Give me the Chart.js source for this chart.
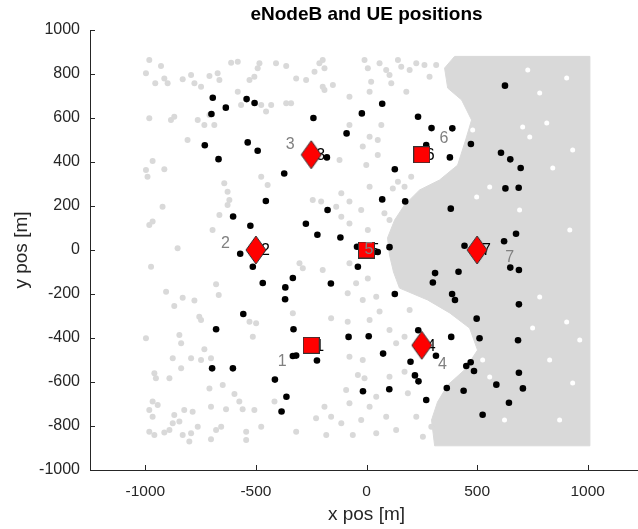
<!DOCTYPE html>
<html>
<head>
<meta charset="utf-8">
<script src="https://cdn.jsdelivr.net/npm/chart.js@4.4.0/dist/chart.umd.min.js"></script>
<style>
  html, body { margin: 0; padding: 0; background: #fff; overflow: hidden; }
  #wrap { width: 646px; height: 529px; }
</style>
</head>
<body>
<div id="wrap"><canvas id="enb-chart" width="646" height="529"></canvas></div>
<script>
// eNodeB sites (square and diamond markers)
var enbSquare = [[-250, -433], [0, 0], [250, 433]];
var enbSquareIds = ['1', '5', '6'];
var enbDiamond = [[-500, 0], [-250, 433], [250, -433], [500, 0]];
var enbDiamondIds = ['2', '3', '4', '7'];

// grey id labels next to the sites
var siteLabelXY = [[-381, -505], [-638, 27], [-345, 477], [343, -520], [11, 0], [350, 505], [647, -33]];
var siteLabelIds = ['1', '2', '3', '4', '5', '6', '7'];

// UE positions
var ueXY = [
  [-695, 692], [-636, 647], [-701, 618], [-542, 686], [-506, 668], [-731, 476], [-669, 413], [-537, 489],
  [-492, 451], [-372, 348], [-455, 223], [-603, 152], [-525, 110], [-571, -17], [-514, -76], [-469, -150],
  [-367, -170], [-368, -224], [-333, -127], [-557, -291], [-680, -360], [-698, -538], [-604, -538], [-414, -589],
  [-362, -667], [-384, -734], [-240, 600], [-21, 621], [71, 665], [-90, 530], [233, 606], [294, 554],
  [270, 477], [-179, 421], [128, 367], [71, 230], [175, 221], [-176, 182], [-274, 119], [-222, 69],
  [-118, 57], [-43, 15], [51, -9], [104, 13], [-39, -76], [-161, -152], [128, -200], [310, -105],
  [300, -148], [416, -99], [-330, -360], [-81, -395], [10, -392], [75, -471], [234, -365], [314, -481],
  [199, -508], [219, -570], [235, -597], [270, -682], [103, -633], [-16, -642], [-333, -482], [-318, -480],
  [-224, -502], [626, 747], [388, 553], [472, 482], [377, 421], [608, 442], [650, 412], [697, 373],
  [628, 280], [688, 283], [381, 188], [676, 74], [622, 40], [443, 19], [650, -80], [689, -91],
  [387, -200], [400, -227], [689, -247], [498, -312], [383, -395], [511, -401], [685, -410], [471, -510],
  [451, -527], [486, -550], [689, -558], [587, -612], [707, -629], [363, -627], [439, -640], [644, -694],
  [525, -749]
];

// scattered grey points
var greyXY = [
  [-982, 864], [-929, 836], [-997, 803], [-955, 758], [-914, 780], [-899, 758], [-831, 776], [-793, 795],
  [-778, 758], [-748, 742], [-710, 791], [-673, 803], [-665, 773], [-612, 851], [-582, 856], [-507, 788],
  [-492, 826], [-484, 849], [-529, 773], [-409, 849], [-363, 836], [-582, 719], [-567, 659], [-476, 659],
  [-454, 629], [-431, 659], [-363, 667], [-982, 599], [-884, 591], [-869, 606], [-763, 591], [-733, 568],
  [-688, 568], [-710, 614], [-809, 500], [-967, 405], [-914, 367], [-997, 364], [-990, 333], [-643, 303],
  [-628, 265], [-620, 227], [-628, 205], [-476, 333], [-447, 295], [-922, 197], [-967, 129], [-982, 114],
  [-665, 159], [-696, 91], [-854, 8],
  [-974, -76], [-906, -190], [-869, -255], [-831, -217], [-778, -230], [-680, -156], [-668, -205], [-756, -303],
  [-748, -318], [-997, -401], [-846, -386], [-838, -424], [-733, -451], [-876, -492], [-793, -492], [-748, -500],
  [-703, -492], [-838, -538], [-959, -560], [-952, -583], [-891, -583], [-529, -326], [-499, -333], [-514, -394],
  [-710, -629], [-650, -614], [-597, -654], [-575, -689], [-967, -689], [-944, -704], [-982, -727], [-967, -758],
  [-869, -750], [-824, -727], [-786, -735], [-703, -712], [-635, -724], [-560, -724], [-507, -727], [-416, -689],
  [-876, -788], [-846, -780], [-891, -818], [-914, -830], [-959, -841], [-982, -826], [-831, -841], [-793, -833],
  [-763, -803], [-680, -818], [-657, -803], [-544, -826], [-476, -803], [-703, -860], [-801, -871], [-544, -864],
  [-318, 780], [-273, 773], [-235, 810], [-213, 849], [-198, 864], [-190, 826], [-198, 742], [-152, 750],
  [-190, 727], [-77, 697], [-9, 864], [6, 826], [21, 765], [59, 849], [89, 818], [104, 795],
  [112, 758], [142, 864], [157, 833], [180, 719], [195, 818], [225, 849], [262, 841], [285, 788],
  [315, 841], [14, 719], [-77, 568], [67, 568], [51, 500], [14, 515], [-122, 409], [51, 432],
  [-1, 386], [-17, 470], [-341, 667], [142, 310], [202, 333], [172, 288], [119, 280], [14, 288],
  [-114, 258], [-77, 220], [-137, 197], [-114, 151], [-77, 121], [-205, 220], [-243, 227], [-24, 182],
  [81, 167], [104, 136], [6, 91],
  [-303, -60], [-288, -83], [-198, -91], [-77, -60], [-47, -151], [6, -129], [-85, -197], [-17, -227],
  [44, -212], [59, -280], [14, -318], [-160, -310], [-85, -326], [104, -364], [134, -424], [172, -394],
  [-77, -485], [-17, -500], [-39, -568], [-9, -583], [104, -576], [172, -553], [187, -651], [-92, -636],
  [44, -667], [14, -712], [-77, -697], [-190, -712], [-228, -765], [-160, -758], [-114, -788], [-24, -773],
  [89, -758], [134, -818], [44, -833], [-62, -841], [-182, -841], [-318, -826], [225, -758], [255, -849],
  [293, -803], [-333, -288], [195, -273]
];

// outline of the dense grey area on the east side
var greyArea = [
  [1010, 880], [398, 880], [353, 827], [367, 736], [430, 682], [475, 591], [448, 500], [412, 386],
  [330, 318], [240, 273], [172, 205], [127, 136], [95, 55], [104, -23], [122, -100], [149, -173],
  [276, -227], [376, -286], [466, -355], [502, -455], [443, -545], [367, -614], [321, -691], [294, -773],
  [308, -890], [1010, -890], [1010, 880]
];

// gaps inside the dense grey area
var greyHoles = [
  [729, 818], [905, 782], [783, 714], [706, 559], [815, 577], [932, 455], [738, 514], [842, 373],
  [498, 241], [557, 286], [480, 545], [783, -214], [751, -355], [905, -327], [828, -500], [932, -605],
  [964, -409], [525, -500], [557, -577], [624, -773], [873, -773], [692, 182], [919, 91]
];

var xTicks = [-1000, -500, 0, 500, 1000];
var yTicks = [-1000, -800, -600, -400, -200, 0, 200, 400, 600, 800, 1000];

var FONT = '"Liberation Sans", Arial, Helvetica, sans-serif';
var TEXT = '#262626';
var GREY = '#d9d9d9';

function toPts(list) {
  return list.map(function (p) { return { x: p[0], y: p[1] }; });
}

// marker images
function makeSquare() {
  var c = document.createElement('canvas');
  c.width = 17; c.height = 17;
  var g = c.getContext('2d');
  g.fillStyle = '#ff0000';
  g.strokeStyle = '#333333';
  g.lineWidth = 1;
  g.fillRect(0.5, 0.5, 16, 16);
  g.strokeRect(0.5, 0.5, 16, 16);
  return c;
}
function makeDiamond() {
  var c = document.createElement('canvas');
  c.width = 22; c.height = 30;
  var g = c.getContext('2d');
  g.beginPath();
  g.moveTo(11, 1);
  g.lineTo(21, 15);
  g.lineTo(11, 29);
  g.lineTo(1, 15);
  g.closePath();
  g.fillStyle = '#ff0000';
  g.fill();
  g.strokeStyle = '#333333';
  g.lineWidth = 1;
  g.stroke();
  return c;
}

var labelPlugin = {
  id: 'labels',
  beforeDatasetDraw: function (chart, args) {
    if (args.index !== 4) return;
    // black ids sit behind the markers
    var ctx = chart.ctx;
    var xs = chart.scales.x, ys = chart.scales.y;
    ctx.save();
    ctx.font = '16px ' + FONT;
    ctx.fillStyle = '#000';
    ctx.textAlign = 'left';
    ctx.textBaseline = 'middle';
    enbSquare.forEach(function (p, i) {
      ctx.fillText(enbSquareIds[i], xs.getPixelForValue(p[0]) + 4, ys.getPixelForValue(p[1]) + 1);
    });
    enbDiamond.forEach(function (p, i) {
      ctx.fillText(enbDiamondIds[i], xs.getPixelForValue(p[0]) + 5, ys.getPixelForValue(p[1]) + 1);
    });
    ctx.restore();
  },
  afterDatasetsDraw: function (chart) {
    var ctx = chart.ctx;
    var xs = chart.scales.x, ys = chart.scales.y;
    ctx.save();
    ctx.font = '16px ' + FONT;
    ctx.fillStyle = '#808080';
    ctx.textAlign = 'center';
    ctx.textBaseline = 'middle';
    siteLabelXY.forEach(function (p, i) {
      ctx.fillText(siteLabelIds[i], xs.getPixelForValue(p[0]), ys.getPixelForValue(p[1]));
    });
    ctx.restore();
  },
  afterDraw: function (chart) {
    var ctx = chart.ctx;
    var a = chart.chartArea;
    var xs = chart.scales.x, ys = chart.scales.y;
    ctx.save();
    // inward tick marks
    ctx.strokeStyle = TEXT;
    ctx.lineWidth = 1;
    ctx.beginPath();
    xTicks.forEach(function (v) {
      var px = Math.round(xs.getPixelForValue(v)) + 0.5;
      ctx.moveTo(px, a.bottom);
      ctx.lineTo(px, a.bottom - 5);
    });
    yTicks.forEach(function (v) {
      var py = Math.round(ys.getPixelForValue(v)) + 0.5;
      ctx.moveTo(a.left, py);
      ctx.lineTo(a.left + 5, py);
    });
    ctx.stroke();
    // title and axis names
    ctx.fillStyle = '#000';
    ctx.textAlign = 'center';
    ctx.textBaseline = 'middle';
    ctx.font = 'bold 19px ' + FONT;
    ctx.fillText('eNodeB and UE positions', (a.left + a.right) / 2, 15);
    ctx.fillStyle = TEXT;
    ctx.font = '19px ' + FONT;
    ctx.fillText('x pos [m]', (a.left + a.right) / 2, 515);
    ctx.translate(22, (a.top + a.bottom) / 2);
    ctx.rotate(-Math.PI / 2);
    ctx.fillText('y pos [m]', 0, 0);
    ctx.restore();
  }
};

function plainTick(v) { return String(v); }

var ctx = document.getElementById('enb-chart').getContext('2d');
var chart = new Chart(ctx, {
  type: 'scatter',
  data: {
    datasets: [
      {
        label: 'area',
        data: toPts(greyArea),
        showLine: true,
        fill: 'shape',
        tension: 0,
        backgroundColor: GREY,
        borderColor: GREY,
        borderWidth: 1,
        pointRadius: 0,
        order: 6
      },
      {
        label: 'grey',
        data: toPts(greyXY),
        backgroundColor: GREY,
        borderWidth: 0,
        pointRadius: 3,
        order: 5
      },
      {
        label: 'holes',
        data: toPts(greyHoles),
        backgroundColor: '#ffffff',
        borderWidth: 0,
        pointRadius: 2.5,
        order: 4
      },
      {
        label: 'UE',
        data: toPts(ueXY),
        backgroundColor: '#000000',
        borderWidth: 0,
        pointRadius: 3.3,
        order: 3
      },
      {
        label: 'eNodeB sq',
        data: toPts(enbSquare),
        pointStyle: makeSquare(),
        pointRadius: 8,
        order: 2
      },
      {
        label: 'eNodeB dia',
        data: toPts(enbDiamond),
        pointStyle: makeDiamond(),
        pointRadius: 10,
        order: 1
      }
    ]
  },
  options: {
    responsive: false,
    animation: false,
    devicePixelRatio: 1,
    layout: { autoPadding: false, padding: { top: 30, right: 3, left: 0, bottom: 0 } },
    plugins: {
      legend: { display: false },
      tooltip: { enabled: false },
      title: { display: false }
    },
    scales: {
      x: {
        type: 'linear',
        min: -1250,
        max: 1250,
        afterBuildTicks: function (s) { s.ticks = xTicks.map(function (v) { return { value: v }; }); },
        afterFit: function (s) { s.height = 59; },
        grid: { display: false, drawTicks: false },
        border: { display: true, color: TEXT, width: 1 },
        ticks: { font: { family: FONT, size: 15.5 }, color: TEXT, padding: 12, maxRotation: 0, callback: plainTick }
      },
      y: {
        type: 'linear',
        min: -1000,
        max: 1000,
        afterBuildTicks: function (s) { s.ticks = yTicks.map(function (v) { return { value: v }; }); },
        afterFit: function (s) { s.width = 90; },
        grid: { display: false, drawTicks: false },
        border: { display: true, color: TEXT, width: 1 },
        ticks: { font: { family: FONT, size: 16 }, color: TEXT, padding: 10, callback: plainTick }
      }
    }
  },
  plugins: [labelPlugin]
});
</script>
</body>
</html>
